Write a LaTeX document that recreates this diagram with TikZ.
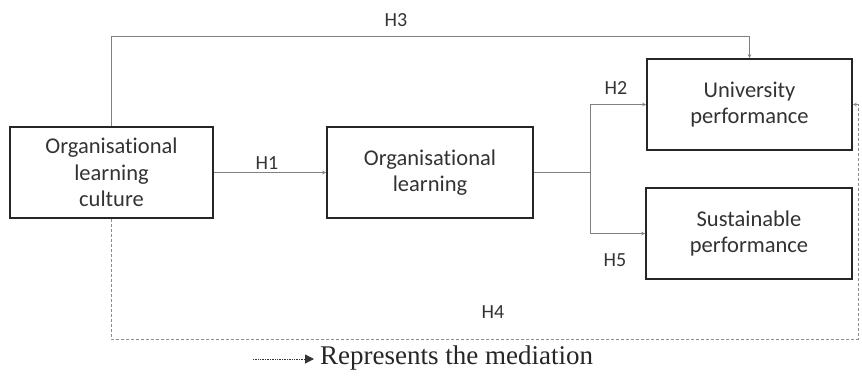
\documentclass[tikz,border=0pt]{standalone}
\usepackage{fontspec}
\setmainfont{Carlito}[Ligatures=NoCommon]
\newfontfamily\legendfont{Liberation Serif}
\usepackage{tikz}
\usetikzlibrary{arrows.meta, positioning, calc}

\begin{document}
\begin{tikzpicture}[
    x=1pt, y=-1pt,
    >={Stealth[length=4pt, width=3.5pt]},
    construct/.style={rectangle, draw=black!85, line width=1.6pt, fill=white,
                      minimum width=205pt, minimum height=91pt, align=center,
                      font=\fontsize{22.5}{26.5}\selectfont, text=black!80},
    path/.style={draw=black!50, line width=0.8pt},
    mediation/.style={draw=black!45, line width=0.8pt, dash pattern=on 3pt off 2pt},
    hyp/.style={font=\fontsize{20}{24}\selectfont, text=black!80, inner sep=1pt}
]
\useasboundingbox (0,0) rectangle (862,376);
\node[construct, minimum width=203pt] (olc) at (111.5,172.5) {Organisational\\learning\\culture};
\node[construct, minimum width=206pt] (ol) at (430,172.5) {Organisational\\learning};
\node[construct] (up) at (749.5,104.5) {University\\performance};
\node[construct, minimum width=206pt] (sp) at (749,233.5) {Sustainable\\performance};
\coordinate (fork) at (590,172.5);
\coordinate (medcorner) at (858,339);
% direct paths
\draw[path, ->] (olc.east) -- (ol.west);
\draw[path] (ol.east) -- (fork);
\draw[path, ->] (fork) |- (up.west);
\draw[path, ->] (fork) |- (sp.west);
\draw[path, ->] (olc.north) |- ([yshift=22pt]up.north) -- (up.north);
% mediation
\draw[mediation, ->] (olc.south) |- (medcorner) |- (up.east);
\node[hyp] (h1) at (267,163) {H1};
\node[hyp] (h2) at (616,88) {H2};
\node[hyp] (h3) at (396,20) {H3};
\node[hyp] (h4) at (493,312) {H4};
\node[hyp] (h5) at (615,260) {H5};
% legend
\coordinate (keystart) at (253,359);
\coordinate (keyend) at (314,359);
\draw[black!80, line width=1pt, dash pattern=on 0.8pt off 0.9pt,
      -{Triangle[length=9pt, width=9pt]}] (keystart) -- (keyend);
\node[anchor=west, font=\legendfont\fontsize{27}{30}\selectfont, inner sep=0pt,
      text=black!85] (keytext) at (320,358) {Represents the mediation};
\end{tikzpicture}
\end{document}
